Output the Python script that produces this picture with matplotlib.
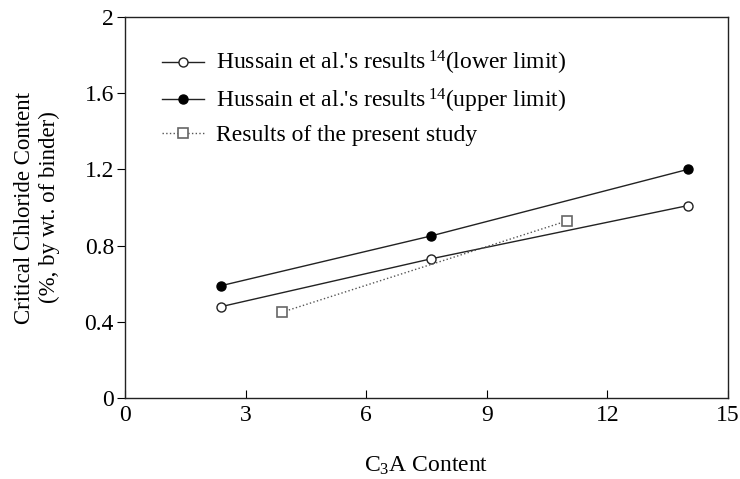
import matplotlib
matplotlib.use("Agg")
import matplotlib.pyplot as plt

plt.rcParams['font.family'] = ['Liberation Serif', 'DejaVu Serif']
plt.rcParams['mathtext.fontset'] = 'custom'
plt.rcParams['mathtext.rm'] = 'Liberation Serif'
plt.rcParams['mathtext.it'] = 'Liberation Serif:italic'

x_hussain = [2.4, 7.6, 14.0]
lower_limit = [0.48, 0.73, 1.01]
upper_limit = [0.59, 0.85, 1.20]
x_present = [3.9, 11.0]
present_study = [0.45, 0.93]

labels = ["Hussain et al.'s results$\\,^{14}$(lower limit)",
          "Hussain et al.'s results$\\,^{14}$(upper limit)",
          "Results of the present study"]
xticks = [0, 3, 6, 9, 12, 15]
yticks = [0, 0.4, 0.8, 1.2, 1.6, 2]
ytick_labels = ['0', '0.4', '0.8', '1.2', '1.6', '2']

FS = 17

fig = plt.figure(figsize=(7.4, 4.79), dpi=100)
ax = fig.add_axes([125/740, 1 - 398/479, 603/740, 381/479])

ax.plot(x_hussain, lower_limit, '-o', color='#222222', lw=1.0, ms=6.5,
        mfc='white', mec='#222222', mew=1.0, label=labels[0])
ax.plot(x_hussain, upper_limit, '-o', color='#222222', lw=1.0, ms=6.5,
        mfc='black', mec='black', label=labels[1])
ax.plot(x_present, present_study, ':s', color='#555555', lw=1.0, ms=7.5,
        mfc='white', mec='#666666', mew=1.2, label=labels[2])

ax.set_xlim(0, 15)
ax.set_ylim(0, 2)
ax.set_xticks(xticks)
ax.set_yticks(yticks)
ax.set_yticklabels(ytick_labels)
ax.tick_params(axis='x', direction='in', length=6, labelsize=FS, pad=5)
ax.tick_params(axis='y', direction='out', length=6, labelsize=FS, pad=2)
for s in ax.spines.values():
    s.set_linewidth(1.0)
    s.set_color('#222222')

ax.set_xlabel('C$_3$A Content', fontsize=FS, labelpad=21)
ax.set_ylabel('Critical Chloride Content\n(%, by wt. of binder)', fontsize=16.5,
              labelpad=18, linespacing=1.2)

leg = ax.legend(loc='upper left', bbox_to_anchor=(0.045, 0.94), frameon=False,
                fontsize=FS, handlelength=1.8, handletextpad=0.5, labelspacing=0.4,
                borderaxespad=0.0)

fig.savefig('out.png', dpi=100)
